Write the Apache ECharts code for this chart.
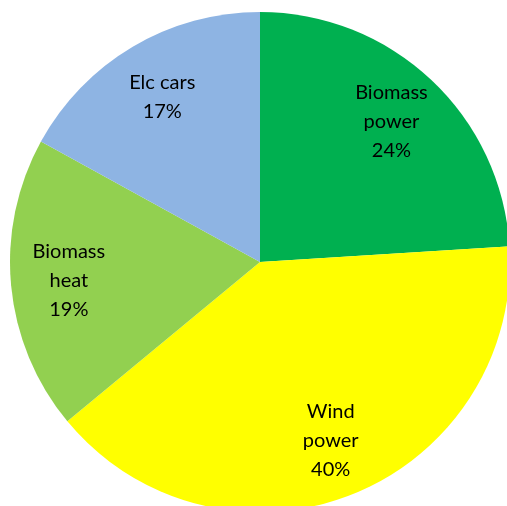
<!DOCTYPE html>
<html>
<head>
<meta charset="utf-8">
<script src="https://cdn.jsdelivr.net/npm/echarts@6/dist/echarts.min.js"></script>
<style>
  html, body { margin: 0; padding: 0; background: #fff; }
  #pie_diagram { width: 507px; height: 506px; }
</style>
</head>
<body>
<div id="pie_diagram"></div>
<script>
// 数据
let names = ['Biomass\npower', 'Wind\npower', 'Biomass\nheat', 'Elc cars'];
let shares = [24, 40, 19, 17];
let colors = ['#00B050', '#FFFF00', '#92D050', '#8EB4E3'];

let myChart = echarts.init(document.getElementById('pie_diagram'));
let data = names.map((n, i) => ({ name: n, value: shares[i] }));

let option = {
    animation: false,
    color: colors,
    series: [
        {
            // 扇区
            type: 'pie',
            center: [260, 262],
            radius: 250,
            startAngle: 90,
            clockwise: true,
            silent: true,
            label: { show: false },
            labelLine: { show: false },
            data: data
        },
        {
            // 标签 (透明环，只用来放文字)
            type: 'pie',
            center: [260, 262],
            radius: [128, 250],
            startAngle: 90,
            clockwise: true,
            silent: true,
            itemStyle: { color: 'rgba(0,0,0,0)' },
            labelLine: { show: false },
            label: {
                show: true,
                position: 'inside',
                formatter: '{b}\n{c}%',
                fontFamily: 'Lato',
                fontSize: 20,
                lineHeight: 29,
                color: '#000',
                align: 'center'
            },
            data: data
        }
    ]
};
myChart.setOption(option, true);
</script>
</body>
</html>
